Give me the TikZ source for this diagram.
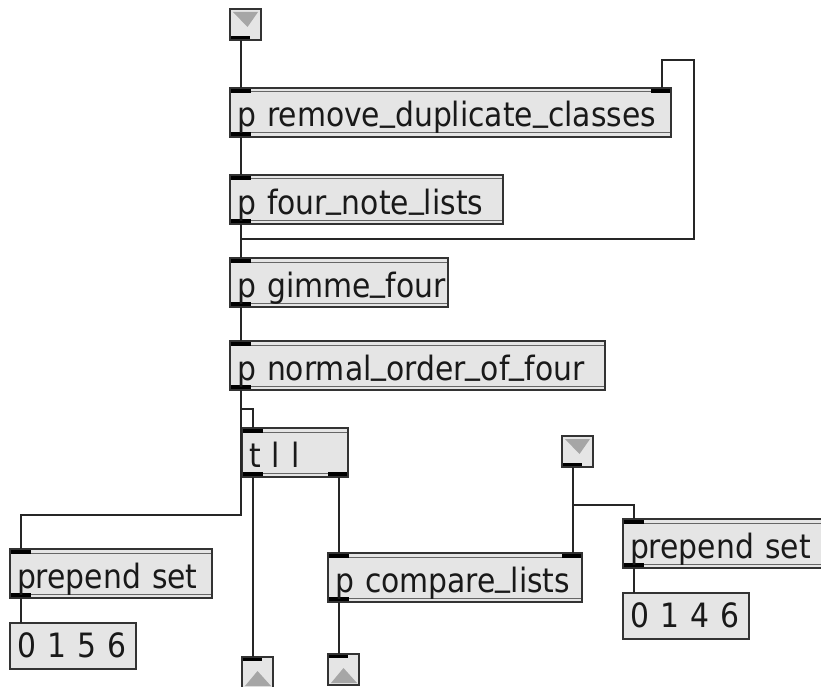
\documentclass[tikz,border=0pt]{standalone}
\usepackage{fontspec}
\newfontfamily\maxfont[FakeStretch=0.89]{DejaVu Sans}
\usepackage{tikz}
\usetikzlibrary{calc}

% double rule and left tabs of a patcher object
\newcommand{\objbase}{%
  \draw[black!60,line width=1pt]
    ([yshift=-4pt]path picture bounding box.north west) -- ([yshift=-4pt]path picture bounding box.north east)
    ([yshift=4pt]path picture bounding box.south west) -- ([yshift=4pt]path picture bounding box.south east);
  \fill[black] (path picture bounding box.north west) rectangle ([xshift=21pt,yshift=-5pt]path picture bounding box.north west);
  \fill[black] (path picture bounding box.south west) rectangle ([xshift=21pt,yshift=5pt]path picture bounding box.south west);
}
\newcommand{\tabNE}{\fill[black] (path picture bounding box.north east) rectangle ([xshift=-20pt,yshift=-5pt]path picture bounding box.north east);}
\newcommand{\tabSE}{\fill[black] (path picture bounding box.south east) rectangle ([xshift=-20pt,yshift=5pt]path picture bounding box.south east);}
% underscore sitting on the baseline
\newcommand{\us}{\raisebox{6.5pt}{\_}}

\begin{document}
\begin{tikzpicture}[x=1pt,y=-1pt,
    obj/.style={draw=black!80,fill=black!10,line width=1.2pt,anchor=north west,outer sep=0pt,
      minimum height=49pt,inner xsep=7pt,inner ysep=0pt,align=left,
      font=\maxfont\fontsize{33.5pt}{38pt}\selectfont,text=black!90,
      text height=30pt,text depth=1pt},
    maxobj/.style={obj,path picture={\objbase}},
    maxobjin/.style={obj,path picture={\objbase\tabNE}},
    maxobjout/.style={obj,path picture={\objbase\tabSE}},
    msgbox/.style={obj,minimum height=46pt,text depth=8pt,text width=112pt},
    port/.style={draw=black!80,fill=black!10,line width=1.2pt,anchor=north west,outer sep=0pt,
      minimum width=31pt,minimum height=31pt,inner sep=0pt},
    inport/.style={port,path picture={
      \fill[black!35] ([xshift=3pt,yshift=-3pt]path picture bounding box.north west)
        -- ([xshift=2pt,yshift=-18pt]path picture bounding box.north)
        -- ([xshift=-3pt,yshift=-3pt]path picture bounding box.north east) -- cycle;
      \fill[black] (path picture bounding box.south west) rectangle ([xshift=20pt,yshift=4pt]path picture bounding box.south west);}},
    outport/.style={port,path picture={
      \fill[black!35] ([xshift=3pt,yshift=2pt]path picture bounding box.south west)
        -- ([yshift=17pt]path picture bounding box.south)
        -- ([xshift=-2pt,yshift=2pt]path picture bounding box.south east) -- cycle;
      \fill[black] (path picture bounding box.north west) rectangle ([xshift=20pt,yshift=-4pt]path picture bounding box.north west);}},
    cable/.style={draw=black!85,line width=1.5pt}]
  \fill[white] (0,0) rectangle (821,687);
  \useasboundingbox (0,0) rectangle (821,687);

  \node[inport] (in1) at (230,9) {};
  \node[maxobjin,text width=427pt] (rdc) at (230,88) {p~remove\us duplicate\us classes};
  \node[maxobj,text width=259pt] (fnl) at (230,175) {p~four\us note\us lists};
  \node[maxobj,text width=204pt] (gf) at (230,258) {p~gimme\us four};
  \node[maxobj,text width=361pt] (noof) at (230,341) {p~normal\us order\us of\us four};
  \node[maxobjout,text width=92pt] (tll) at (242,428) {t~l~l};
  \node[inport] (in2) at (562,436) {};
  \node[maxobj,text width=188pt] (prepL) at (10,549) {prepend~set};
  \node[maxobjin,text width=240pt] (cmp) at (328,553) {p~compare\us lists};
  \node[maxobj,text width=188pt] (prepR) at (623,519) {prepend~set};
  \node[msgbox] (msgL) at (10,623) {0~1~5~6};
  \node[msgbox] (msgR) at (623,593) {0~1~4~6};
  \node[outport] (out1) at (242,657) {};
  \node[outport] (out2) at (328,654) {};
  \coordinate (loopcorner) at (694,60);

  \draw[cable] ($(in1.south west)+(11,0)$) -- ($(rdc.north west)+(11,0)$);
  \draw[cable] ($(rdc.south west)+(11,0)$) -- ($(fnl.north west)+(11,0)$);
  \draw[cable] ($(fnl.south west)+(11,0)$) -- ($(gf.north west)+(11,0)$);
  \draw[cable] ($(fnl.south west)+(11,0)$) -- ++(0,15) -| (loopcorner) -| ($(rdc.north east)+(-9,0)$);
  \draw[cable] ($(gf.south west)+(11,0)$) -- ($(noof.north west)+(11,0)$);
  \draw[cable] ($(noof.south west)+(11,0)$) -- ++(0,19) -| ($(tll.north west)+(11,0)$);
  \draw[cable] ($(noof.south west)+(11,0)$) -- ++(0,125) -| ($(prepL.north west)+(11,0)$);
  \draw[cable] ($(tll.south west)+(11,0)$) -- ($(out1.north west)+(11,0)$);
  \draw[cable] ($(tll.south east)+(-9,0)$) -- ($(cmp.north west)+(11,0)$);
  \draw[cable] ($(cmp.south west)+(11,0)$) -- ($(out2.north west)+(11,0)$);
  \draw[cable] ($(in2.south west)+(11,0)$) -- ($(cmp.north east)+(-9,0)$);
  \draw[cable] ($(in2.south west)+(11,0)$) -- ++(0,38) -| ($(prepR.north west)+(11,0)$);
  \draw[cable] ($(prepL.south west)+(11,0)$) -- ($(msgL.north west)+(11,0)$);
  \draw[cable] ($(prepR.south west)+(11,0)$) -- ($(msgR.north west)+(11,0)$);
\end{tikzpicture}
\end{document}
